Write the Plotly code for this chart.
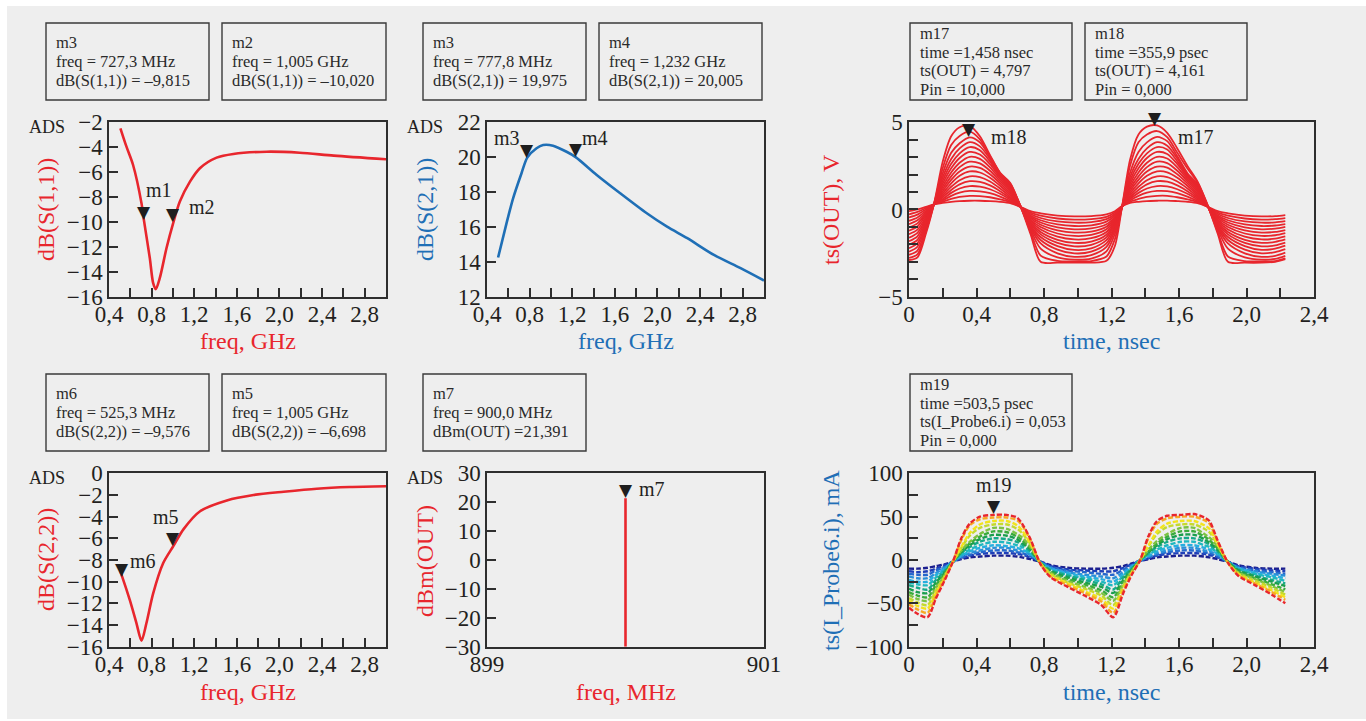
import plotly.graph_objects as go

W, H = 1366, 721
SERIF = "Liberation Serif"
RED = "#e8262d"
BLUE = "#1f6fb6"
INK = "#231f20"
FRAME = "#2e2e2e"
PANEL_BG = "#eeeeee"

# ---------------- S-parameter sweeps (freq in GHz, level in dB) ----------------
s11_freq = [0.507, 0.564, 0.626, 0.705, 0.727, 0.783, 0.814, 0.839, 0.877, 0.940,
            1.005, 1.065, 1.160, 1.253, 1.410, 1.567, 1.880, 2.190, 2.510, 3.000]
s11_db = [-2.48, -3.96, -5.43, -8.50, -9.815, -12.90, -14.90, -15.40, -14.50, -12.10,
          -10.02, -8.37, -6.77, -5.69, -4.84, -4.54, -4.36, -4.44, -4.68, -4.97]

s21_freq = [0.504, 0.583, 0.645, 0.724, 0.778, 0.865, 0.927, 1.020, 1.147, 1.232,
            1.430, 1.650, 1.900, 2.090, 2.280, 2.530, 2.780, 3.000]
s21_db = [14.24, 16.20, 17.64, 19.08, 19.975, 20.51, 20.70, 20.66, 20.31, 20.005,
          18.98, 17.93, 16.78, 16.01, 15.35, 14.39, 13.63, 12.92]

s22_freq = [0.503, 0.525, 0.595, 0.658, 0.705, 0.751, 0.814, 0.908, 1.005, 1.100,
            1.255, 1.506, 1.757, 2.040, 2.350, 2.660, 3.000]
s22_db = [-8.98, -9.576, -11.69, -13.84, -15.44, -13.84, -11.10, -8.30, -6.698, -5.15,
          -3.50, -2.50, -2.00, -1.70, -1.42, -1.27, -1.20]

# ---------------- output spectrum (MHz, dBm) ----------------
spec_freq = [900.0, 900.0]
spec_dbm = [-30.0, 21.391]

# ---------------- transient output voltage, one row per Pin step (ns, V) ----------------
t_out = [0.00, 0.05, 0.10, 0.15, 0.20, 0.25, 0.30, 0.36, 0.42, 0.48, 0.54, 0.60,
         0.66, 0.72, 0.78, 0.88, 0.98, 1.08, 1.17, 1.22, 1.26, 1.31, 1.36, 1.41,
         1.47, 1.53, 1.59, 1.65, 1.71, 1.77, 1.83, 1.89, 1.99, 2.09, 2.17, 2.23]
v_out = [
    [-0.10, 0.00, 0.15, 0.30, 0.38, 0.44, 0.48, 0.50, 0.50, 0.48, 0.44, 0.36, 0.15, -0.10, -0.22, -0.35, -0.40, -0.38, -0.28, -0.10, 0.18, 0.38, 0.44, 0.48, 0.50, 0.51, 0.48, 0.44, 0.36, 0.15, -0.10, -0.22, -0.35, -0.40, -0.38, -0.32],
    [-0.28, -0.14, 0.08, 0.30, 0.45, 0.60, 0.72, 0.78, 0.77, 0.70, 0.58, 0.42, 0.15, -0.18, -0.36, -0.52, -0.58, -0.55, -0.42, -0.18, 0.17, 0.45, 0.60, 0.72, 0.78, 0.78, 0.70, 0.58, 0.42, 0.15, -0.18, -0.36, -0.52, -0.58, -0.56, -0.50],
    [-0.46, -0.30, 0.00, 0.30, 0.52, 0.78, 0.96, 1.06, 1.04, 0.94, 0.74, 0.48, 0.16, -0.26, -0.49, -0.69, -0.76, -0.73, -0.56, -0.26, 0.16, 0.52, 0.78, 0.96, 1.06, 1.05, 0.94, 0.74, 0.48, 0.16, -0.26, -0.49, -0.69, -0.76, -0.74, -0.67],
    [-0.65, -0.46, -0.08, 0.31, 0.60, 0.95, 1.20, 1.34, 1.31, 1.16, 0.90, 0.56, 0.16, -0.34, -0.62, -0.86, -0.95, -0.91, -0.70, -0.34, 0.15, 0.60, 0.95, 1.20, 1.34, 1.32, 1.16, 0.90, 0.56, 0.16, -0.34, -0.62, -0.86, -0.95, -0.92, -0.84],
    [-0.84, -0.62, -0.16, 0.31, 0.70, 1.12, 1.44, 1.62, 1.58, 1.38, 1.05, 0.64, 0.17, -0.42, -0.75, -1.03, -1.14, -1.09, -0.85, -0.42, 0.14, 0.70, 1.12, 1.44, 1.62, 1.59, 1.38, 1.05, 0.64, 0.17, -0.42, -0.75, -1.03, -1.14, -1.10, -1.00],
    [-1.03, -0.80, -0.25, 0.31, 0.80, 1.30, 1.68, 1.90, 1.85, 1.60, 1.20, 0.72, 0.17, -0.50, -0.88, -1.20, -1.33, -1.27, -0.99, -0.50, 0.13, 0.80, 1.30, 1.68, 1.90, 1.86, 1.60, 1.20, 0.72, 0.17, -0.50, -0.88, -1.20, -1.33, -1.29, -1.18],
    [-1.22, -0.98, -0.34, 0.32, 0.92, 1.50, 1.93, 2.18, 2.12, 1.82, 1.36, 0.82, 0.17, -0.58, -1.01, -1.38, -1.52, -1.46, -1.14, -0.58, 0.12, 0.92, 1.50, 1.93, 2.18, 2.13, 1.82, 1.36, 0.82, 0.17, -0.58, -1.01, -1.38, -1.52, -1.48, -1.36],
    [-1.42, -1.16, -0.44, 0.32, 1.05, 1.70, 2.18, 2.46, 2.38, 2.02, 1.50, 0.92, 0.18, -0.66, -1.15, -1.56, -1.72, -1.65, -1.29, -0.66, 0.11, 1.05, 1.70, 2.18, 2.46, 2.40, 2.02, 1.50, 0.92, 0.18, -0.66, -1.15, -1.56, -1.72, -1.67, -1.54],
    [-1.62, -1.34, -0.54, 0.33, 1.18, 1.90, 2.43, 2.74, 2.64, 2.22, 1.62, 1.02, 0.18, -0.74, -1.29, -1.74, -1.92, -1.84, -1.45, -0.75, 0.10, 1.18, 1.90, 2.43, 2.74, 2.66, 2.22, 1.62, 1.02, 0.18, -0.74, -1.29, -1.74, -1.92, -1.86, -1.72],
    [-1.82, -1.54, -0.64, 0.33, 1.32, 2.12, 2.68, 3.02, 2.90, 2.42, 1.74, 1.12, 0.18, -0.82, -1.43, -1.92, -2.12, -2.03, -1.60, -0.84, 0.09, 1.32, 2.12, 2.68, 3.02, 2.92, 2.42, 1.74, 1.12, 0.18, -0.82, -1.43, -1.92, -2.12, -2.06, -1.90],
    [-2.02, -1.74, -0.75, 0.34, 1.48, 2.36, 2.95, 3.30, 3.15, 2.60, 1.85, 1.22, 0.19, -0.90, -1.58, -2.10, -2.32, -2.23, -1.76, -0.94, 0.08, 1.48, 2.36, 2.95, 3.30, 3.18, 2.60, 1.85, 1.22, 0.19, -0.90, -1.58, -2.10, -2.32, -2.25, -2.08],
    [-2.22, -1.94, -0.86, 0.35, 1.65, 2.62, 3.22, 3.58, 3.40, 2.76, 1.94, 1.30, 0.19, -0.98, -1.75, -2.30, -2.52, -2.42, -1.95, -1.06, 0.07, 1.65, 2.62, 3.22, 3.58, 3.44, 2.76, 1.94, 1.30, 0.19, -0.98, -1.75, -2.30, -2.52, -2.45, -2.28],
    [-2.42, -2.14, -0.98, 0.36, 1.85, 2.90, 3.50, 3.86, 3.62, 2.90, 2.00, 1.38, 0.19, -1.06, -1.95, -2.52, -2.72, -2.62, -2.15, -1.20, 0.06, 1.85, 2.90, 3.50, 3.86, 3.66, 2.92, 2.02, 1.38, 0.19, -1.06, -1.95, -2.52, -2.72, -2.66, -2.48],
    [-2.60, -2.36, -1.12, 0.37, 2.08, 3.25, 3.80, 4.14, 3.85, 3.00, 2.05, 1.44, 0.20, -1.15, -2.25, -2.75, -2.88, -2.82, -2.40, -1.40, 0.05, 2.10, 3.30, 3.85, 4.16, 3.92, 3.05, 2.08, 1.44, 0.20, -1.15, -2.25, -2.75, -2.88, -2.84, -2.66],
    [-2.78, -2.58, -1.26, 0.38, 2.38, 3.70, 4.22, 4.46, 4.02, 3.06, 2.08, 1.48, 0.20, -1.26, -2.65, -2.95, -2.98, -2.96, -2.70, -1.70, 0.03, 2.50, 3.85, 4.30, 4.50, 4.15, 3.25, 2.35, 1.55, 0.22, -1.30, -2.70, -2.96, -2.98, -2.96, -2.80],
    [-2.90, -2.75, -1.40, 0.40, 2.75, 4.20, 4.72, 4.80, 4.20, 3.12, 2.10, 1.52, 0.20, -1.40, -3.00, -3.05, -3.05, -3.05, -2.95, -2.10, 0.00, 2.85, 4.30, 4.75, 4.82, 4.40, 3.50, 2.50, 1.60, 0.25, -1.40, -3.00, -3.05, -3.05, -3.00, -2.85],
]

# ---------------- transient probe current, one row per Pin step (ns, mA) ----------------
t_probe = [0.00, 0.05, 0.11, 0.16, 0.21, 0.26, 0.31, 0.36, 0.42, 0.50, 0.58, 0.64,
           0.67, 0.72, 0.78, 0.84, 0.94, 1.04, 1.14, 1.21, 1.27, 1.32, 1.37, 1.42,
           1.47, 1.53, 1.61, 1.69, 1.75, 1.78, 1.83, 1.89, 1.95, 2.05, 2.15, 2.23]
i_probe = [
    [-10, -10, -9, -7, -5, -2, 1, 3, 4, 5, 5, 4, 3, 1, -2, -6, -9, -10, -10, -9, -7, -4, -1, 1, 3, 4, 5, 5, 4, 3, 1, -2, -6, -9, -10, -10],
    [-13, -14, -13, -10, -6, -2, 2, 5, 7, 8, 8, 7, 6, 3, -2, -7, -11, -12, -13, -13, -9, -5, -1, 2, 5, 7, 8, 8, 7, 6, 3, -2, -7, -10, -12, -13],
    [-16, -17, -17, -12, -8, -2, 3, 6, 9, 11, 11, 9, 8, 4, -2, -8, -12, -14, -16, -17, -11, -6, -1, 3, 6, 9, 11, 11, 9, 8, 4, -2, -8, -12, -14, -16],
    [-19, -21, -21, -15, -9, -2, 4, 8, 11, 14, 14, 11, 10, 6, -3, -9, -14, -17, -19, -21, -14, -7, 0, 4, 8, 11, 14, 14, 11, 10, 6, -2, -9, -13, -16, -18],
    [-23, -25, -25, -17, -10, -2, 5, 10, 14, 17, 16, 14, 12, 7, -3, -10, -15, -19, -22, -25, -16, -8, 0, 5, 10, 14, 17, 17, 14, 12, 7, -2, -9, -15, -18, -21],
    [-26, -28, -29, -20, -12, -2, 6, 12, 17, 21, 20, 17, 15, 8, -3, -11, -17, -21, -25, -29, -18, -9, 0, 6, 12, 17, 21, 21, 17, 15, 8, -2, -10, -16, -20, -24],
    [-29, -32, -34, -23, -13, -2, 8, 15, 21, 25, 24, 21, 18, 10, -3, -12, -18, -23, -28, -34, -20, -10, 0, 8, 15, 21, 25, 25, 21, 18, 10, -2, -11, -18, -23, -27],
    [-33, -37, -38, -26, -15, -2, 9, 17, 24, 29, 28, 24, 20, 12, -4, -13, -20, -26, -31, -38, -23, -11, 0, 9, 17, 24, 29, 29, 24, 20, 12, -2, -12, -19, -25, -30],
    [-37, -41, -43, -29, -16, -2, 10, 19, 27, 33, 32, 27, 23, 13, -4, -14, -22, -28, -35, -43, -25, -12, 0, 10, 19, 27, 33, 33, 27, 23, 13, -3, -13, -21, -28, -34],
    [-40, -45, -47, -32, -18, -2, 11, 21, 30, 37, 36, 30, 26, 15, -4, -15, -24, -31, -38, -47, -28, -13, 0, 12, 22, 30, 37, 37, 30, 26, 15, -3, -14, -22, -30, -37],
    [-44, -49, -52, -35, -19, -2, 14, 28, 37, 41, 41, 36, 31, 18, -4, -16, -26, -33, -41, -52, -30, -14, 0, 16, 30, 38, 41, 41, 36, 32, 17, -3, -15, -24, -32, -40],
    [-47, -53, -56, -38, -21, -2, 15, 31, 41, 45, 45, 40, 34, 19, -4, -18, -27, -36, -45, -56, -33, -15, 0, 17, 33, 42, 45, 45, 40, 36, 18, -3, -16, -26, -35, -43],
    [-51, -57, -61, -41, -22, -2, 23, 40, 47, 49, 49, 46, 40, 23, -5, -19, -29, -38, -48, -61, -35, -16, 0, 26, 42, 48, 50, 50, 46, 42, 21, -3, -17, -27, -37, -46],
    [-55, -62, -66, -44, -24, -2, 25, 42, 50, 52, 52, 49, 42, 24, -5, -20, -31, -41, -52, -66, -38, -17, 0, 28, 45, 51, 52, 53, 49, 45, 22, -3, -18, -29, -40, -50],
]
probe_colors = ["#1b1f8f", "#1f3fb8", "#2567cc", "#2a8fd8", "#27aee0", "#1fb8c0", "#17a98a",
                "#1a9e4e", "#3aab3c", "#7cc242", "#c5d92e", "#f2e41c", "#f7a823", "#e8262d"]

# ---------------- markers: name, panel, x, y ----------------
mk_names = ["m1", "m2", "m3", "m4", "m18", "m17", "m6", "m5", "m7", "m19"]
mk_panel = [1, 1, 2, 2, 3, 3, 4, 4, 5, 6]
mk_x = [0.7273, 1.005, 0.7778, 1.232, 0.3559, 1.458, 0.5253, 1.005, 900.0, 0.5035]
mk_y = [-9.815, -10.020, 19.975, 20.005, 4.161, 4.797, -9.576, -6.698, 21.391, 53.0]

# ---------------- marker readout boxes ----------------
readouts = [
    ["m3", "freq = 727,3 MHz", "dB(S(1,1)) = –9,815"],
    ["m2", "freq = 1,005 GHz", "dB(S(1,1)) = –10,020"],
    ["m3", "freq = 777,8 MHz", "dB(S(2,1)) = 19,975"],
    ["m4", "freq = 1,232 GHz", "dB(S(2,1)) = 20,005"],
    ["m17", "time =1,458 nsec", "ts(OUT) = 4,797", "Pin = 10,000"],
    ["m18", "time =355,9 psec", "ts(OUT) = 4,161", "Pin = 0,000"],
    ["m6", "freq = 525,3 MHz", "dB(S(2,2)) = –9,576"],
    ["m5", "freq = 1,005 GHz", "dB(S(2,2)) = –6,698"],
    ["m7", "freq = 900,0 MHz", "dBm(OUT) =21,391"],
    ["m19", "time =503,5 psec", "ts(I_Probe6.i) = 0,053", "Pin = 0,000"],
]

# ---------------- tick labels ----------------
ghz_ticks = [0.4, 0.8, 1.2, 1.6, 2.0, 2.4, 2.8]
ghz_labels = ["0,4", "0,8", "1,2", "1,6", "2,0", "2,4", "2,8"]
ns_ticks = [0, 0.4, 0.8, 1.2, 1.6, 2.0, 2.4]
ns_labels = ["0", "0,4", "0,8", "1,2", "1,6", "2,0", "2,4"]
s11_ticks = [-16, -14, -12, -10, -8, -6, -4, -2]
s11_labels = ["−16", "−14", "−12", "−10", "−8", "−6", "−4", "−2"]
s21_ticks = [12, 14, 16, 18, 20, 22]
s21_labels = ["12", "14", "16", "18", "20", "22"]
s22_ticks = [-16, -14, -12, -10, -8, -6, -4, -2, 0]
s22_labels = ["−16", "−14", "−12", "−10", "−8", "−6", "−4", "−2", "0"]
vout_ticks = [-5, 0, 5]
vout_labels = ["−5", "0", "5"]
dbm_ticks = [-30, -20, -10, 0, 10, 20, 30]
dbm_labels = ["−30", "−20", "−10", "0", "10", "20", "30"]
mhz_ticks = [899, 901]
mhz_labels = ["899", "901"]
ma_ticks = [-100, -50, 0, 50, 100]
ma_labels = ["−100", "−50", "0", "50", "100"]


def px(x):
    return x / W


def py(y):
    return 1 - y / H


fig = go.Figure()


def axref(i):
    return ("x" if i == 1 else f"x{i}"), ("y" if i == 1 else f"y{i}")


def add_line(panel, x, y, color, width, dash="solid"):
    xa, ya = axref(panel)
    fig.add_trace(go.Scatter(x=x, y=y, mode="lines", xaxis=xa, yaxis=ya,
                             line=dict(color=color, width=width, shape="spline",
                                       smoothing=0.8, dash=dash),
                             hoverinfo="skip", showlegend=False))


add_line(1, s11_freq, s11_db, RED, 2.6)
add_line(2, s21_freq, s21_db, BLUE, 2.6)
for row in v_out:
    add_line(3, t_out, row, RED, 1.8)
add_line(4, s22_freq, s22_db, RED, 2.6)
fig.add_trace(go.Scatter(x=spec_freq, y=spec_dbm, mode="lines", xaxis="x5", yaxis="y5",
                         line=dict(color=RED, width=2.6), hoverinfo="skip", showlegend=False))
for row, col in zip(i_probe, probe_colors):
    add_line(6, t_probe, row, col, 2.4, dash="5px,2px")

# plot areas in pixels: (left, right, top, bottom)
boxes_px = [(109, 386, 122.3, 296.6), (487, 764, 122.3, 296.6), (909, 1314, 122.3, 296.6),
            (109, 386, 473.3, 646.7), (487, 764, 473.3, 646.7), (909, 1314, 473.3, 646.7)]

tickfont = dict(family=SERIF, size=23, color=INK)
base = dict(showline=True, mirror=True, linecolor=FRAME, linewidth=1.5,
            ticks="inside", ticklen=9, tickwidth=1.5, tickcolor=FRAME,
            showgrid=False, zeroline=False, fixedrange=True, tickfont=tickfont,
            tickmode="array", automargin=False)


def minor(dt, t0):
    return dict(dtick=dt, tick0=t0, ticks="inside", ticklen=9, tickwidth=1.5,
                tickcolor=FRAME, showgrid=False)


axes_spec = [
    # x range, x ticks, x labels, x minor, y range, y ticks, y labels, y minor
    ([0.4, 3.0], ghz_ticks, ghz_labels, minor(0.2, 0.4), [-16, -2], s11_ticks, s11_labels, None),
    ([0.4, 3.0], ghz_ticks, ghz_labels, minor(0.2, 0.4), [12, 22], s21_ticks, s21_labels, None),
    ([0, 2.4], ns_ticks, ns_labels, minor(0.2, 0), [-5, 5], vout_ticks, vout_labels, minor(1, 0)),
    ([0.4, 3.0], ghz_ticks, ghz_labels, minor(0.2, 0.4), [-16, 0], s22_ticks, s22_labels, None),
    ([899, 901], mhz_ticks, mhz_labels, None, [-30, 30], dbm_ticks, dbm_labels, None),
    ([0, 2.4], ns_ticks, ns_labels, minor(0.2, 0), [-100, 100], ma_ticks, ma_labels, minor(25, 0)),
]

layout_axes = {}
for i, ((l, r, t, b), spec) in enumerate(zip(boxes_px, axes_spec), start=1):
    xr, xt, xl, xm, yr, yt, yl, ym = spec
    xa, ya = axref(i)
    xd = dict(base, domain=[px(l), px(r)], range=xr, tickvals=xt, ticktext=xl, anchor=ya,
              ticklabelstandoff=-4)
    yd = dict(base, domain=[py(b), py(t)], range=yr, tickvals=yt, ticktext=yl, anchor=xa)
    if xm:
        xd["minor"] = xm
    if ym:
        yd["minor"] = ym
    layout_axes["xaxis" if i == 1 else f"xaxis{i}"] = xd
    layout_axes["yaxis" if i == 1 else f"yaxis{i}"] = yd

shapes = [dict(type="rect", xref="paper", yref="paper", x0=px(7), x1=1, y0=py(719), y1=py(6),
               fillcolor=PANEL_BG, line=dict(width=0), layer="below")]
annotations = []

# readout boxes
box_rects = [(46, 23, 209, 100), (222, 23, 386, 100), (423, 23, 586, 100), (599, 23, 762, 100),
             (910, 23, 1072, 100), (1085, 23, 1247, 100),
             (46, 374, 209, 451), (222, 374, 386, 451), (423, 374, 586, 451), (910, 374, 1072, 451)]
for (x0, y0, x1, y1), lines in zip(box_rects, readouts):
    shapes.append(dict(type="rect", xref="paper", yref="paper", x0=px(x0), x1=px(x1),
                       y0=py(y1), y1=py(y0), line=dict(color="#3a3a3a", width=1.4),
                       fillcolor="rgba(0,0,0,0)"))
    n = len(lines)
    step = 19 if n == 3 else 18.6
    cy = (y0 + y1) / 2
    for k, txt in enumerate(lines):
        yc = cy + (k - (n - 1) / 2) * step
        annotations.append(dict(xref="paper", yref="paper", x=px(x0 + 8), y=py(yc),
                                xanchor="left", yanchor="middle", text=txt, showarrow=False,
                                font=dict(family=SERIF, size=16.5, color="#2a2a2a")))

# axis titles: text, colour, centre x, centre y, angle
titles = [
    ("freq, GHz", RED, 248, 341, 0), ("dB(S(1,1))", RED, 46, 210, -90),
    ("freq, GHz", BLUE, 626, 341, 0), ("dB(S(2,1))", BLUE, 425, 210, -90),
    ("time, nsec", BLUE, 1111, 341, 0), ("ts(OUT), V", RED, 831, 209, -90),
    ("freq, GHz", RED, 248, 692, 0), ("dB(S(2,2))", RED, 46, 560, -90),
    ("freq, MHz", RED, 626, 692, 0), ("dBm(OUT)", RED, 425, 561, -90),
    ("time, nsec", BLUE, 1111, 692, 0), ("ts(I_Probe6.i), mA", BLUE, 831, 560, -90),
]
for txt, col, x, y, ang in titles:
    annotations.append(dict(xref="paper", yref="paper", x=px(x), y=py(y), text=txt,
                            textangle=ang, showarrow=False, xanchor="center", yanchor="middle",
                            font=dict(family=SERIF, size=24, color=col)))

for x, y in [(47, 127), (425, 127), (47, 478), (425, 478)]:
    annotations.append(dict(xref="paper", yref="paper", x=px(x), y=py(y), text="ADS",
                            showarrow=False, xanchor="center", yanchor="middle",
                            font=dict(family=SERIF, size=18, color=INK)))

# marker triangles (tip on the trace) and their labels
label_shift = {"m1": (15, 30), "m2": (29, 15), "m3": (-20, 20), "m4": (19, 19),
               "m18": (40, 0), "m17": (41, -11), "m6": (21, 16), "m5": (-7, 29),
               "m7": (26, 9), "m19": (0, 29)}
for name, pnl, x, y in zip(mk_names, mk_panel, mk_x, mk_y):
    xa, ya = axref(pnl)
    annotations.append(dict(xref=xa, yref=ya, x=x, y=y, yshift=-4, text="▼",
                            showarrow=False, xanchor="center", yanchor="bottom",
                            font=dict(family="DejaVu Sans", size=17, color="#1e1e1e")))
    dx, dy = label_shift[name]
    annotations.append(dict(xref=xa, yref=ya, x=x, y=y, xshift=dx, yshift=dy, text=name,
                            showarrow=False, xanchor="center", yanchor="middle",
                            font=dict(family=SERIF, size=20, color=INK)))

fig.update_layout(
    width=W, height=H,
    margin=dict(l=0, r=0, t=0, b=0, pad=0, autoexpand=False),
    paper_bgcolor="white", plot_bgcolor=PANEL_BG,
    separators=", ", showlegend=False,
    shapes=shapes, annotations=annotations,
    **layout_axes,
)

fig.write_html("out.html", config={"displayModeBar": False})
